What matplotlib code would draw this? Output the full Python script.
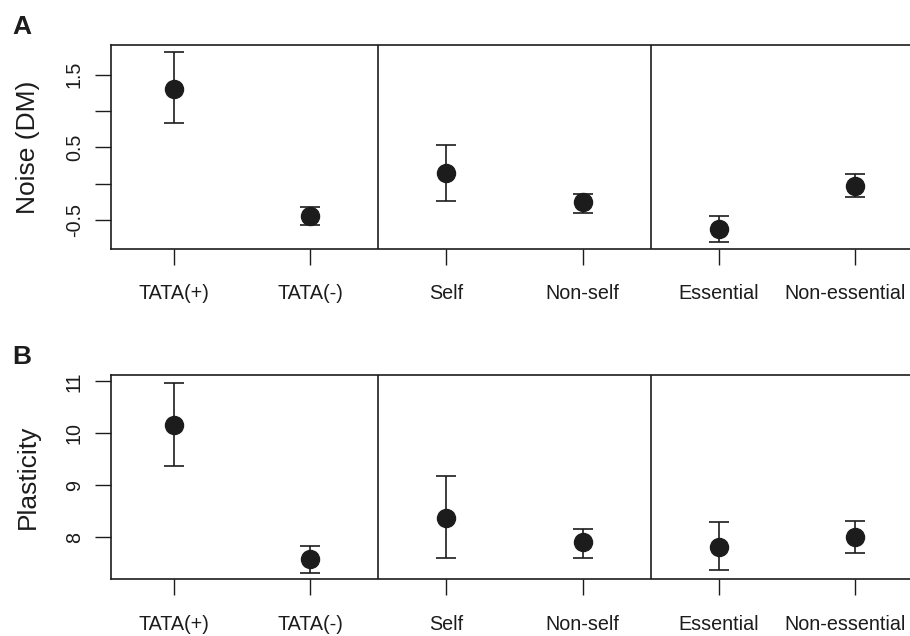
import numpy as np
import matplotlib.pyplot as plt

plt.rcParams['font.family'] = ['Liberation Sans', 'DejaVu Sans']

groups = ["TATA(+)", "TATA(-)", "Self", "Non-self", "Essential", "Non-essential"]

# panel A: noise (DM), mean with lower/upper interval bounds
noise_mean = [1.30, -0.45, 0.14, -0.26, -0.63, -0.03]
noise_low = [0.83, -0.57, -0.24, -0.41, -0.81, -0.18]
noise_high = [1.81, -0.33, 0.53, -0.15, -0.45, 0.13]

# panel B: plasticity
plast_mean = [10.16, 7.58, 8.37, 7.91, 7.81, 8.01]
plast_low = [9.38, 7.32, 7.61, 7.61, 7.38, 7.70]
plast_high = [10.97, 7.84, 9.18, 8.16, 8.30, 8.32]

ink = "#1c1c1c"
tick_len = 11.5
tick_pad = 14
label_size = 14.2


def draw_panel(ax, mean, low, high, ylim, yticks, ylabels, ylabel, tag):
    x = np.arange(1, len(groups) + 1)
    mean = np.array(mean)
    err = [mean - np.array(low), np.array(high) - mean]
    ax.errorbar(x, mean, yerr=err, fmt="o", color=ink, ecolor=ink,
                markersize=13, elinewidth=1.2, capsize=7.5, capthick=1.2)
    for xv in (2.5, 4.5):
        ax.axvline(xv, color=ink, lw=1.2)
    ax.set_xlim(0.537, 6.463)
    ax.set_ylim(*ylim)
    ax.set_xticks(x)
    # last label is written separately, nudged left so it stays on the page
    ax.set_xticklabels(groups[:-1] + [""], fontsize=label_size)
    ax.annotate(groups[-1], xy=(x[-1], 0), xycoords=("data", "axes fraction"),
                xytext=(-7, -(tick_len + tick_pad)), textcoords="offset points",
                ha="center", va="top", fontsize=label_size, color=ink)
    ax.set_yticks(yticks)
    ax.set_yticklabels(ylabels, fontsize=label_size, rotation=90, va="center")
    ax.tick_params(axis="both", direction="out", length=tick_len, width=1.0,
                   color=ink, labelcolor=ink)
    ax.tick_params(axis="x", pad=tick_pad)
    ax.tick_params(axis="y", pad=8)
    ax.set_ylabel(ylabel, fontsize=19, color=ink, labelpad=18)
    for s in ax.spines.values():
        s.set_linewidth(1.2)
        s.set_color(ink)
    ax.text(-0.122, 1.09, tag, transform=ax.transAxes, fontsize=19,
            fontweight="bold", color=ink, ha="left", va="center")


fig = plt.figure(figsize=(9.1, 6.36), dpi=100)
ax1 = fig.add_axes([0.1220, 0.6085, 0.8868, 0.3208])
ax2 = fig.add_axes([0.1220, 0.0892, 0.8868, 0.3212])

draw_panel(ax1, noise_mean, noise_low, noise_high, (-0.902, 1.908),
           [-0.5, 0.0, 0.5, 1.0, 1.5], ["-0.5", "", "0.5", "", "1.5"],
           "Noise (DM)", "A")
draw_panel(ax2, plast_mean, plast_low, plast_high, (7.196, 11.125),
           [8, 9, 10, 11], ["8", "9", "10", "11"],
           "Plasticity", "B")

fig.savefig("out.png", dpi=100)
